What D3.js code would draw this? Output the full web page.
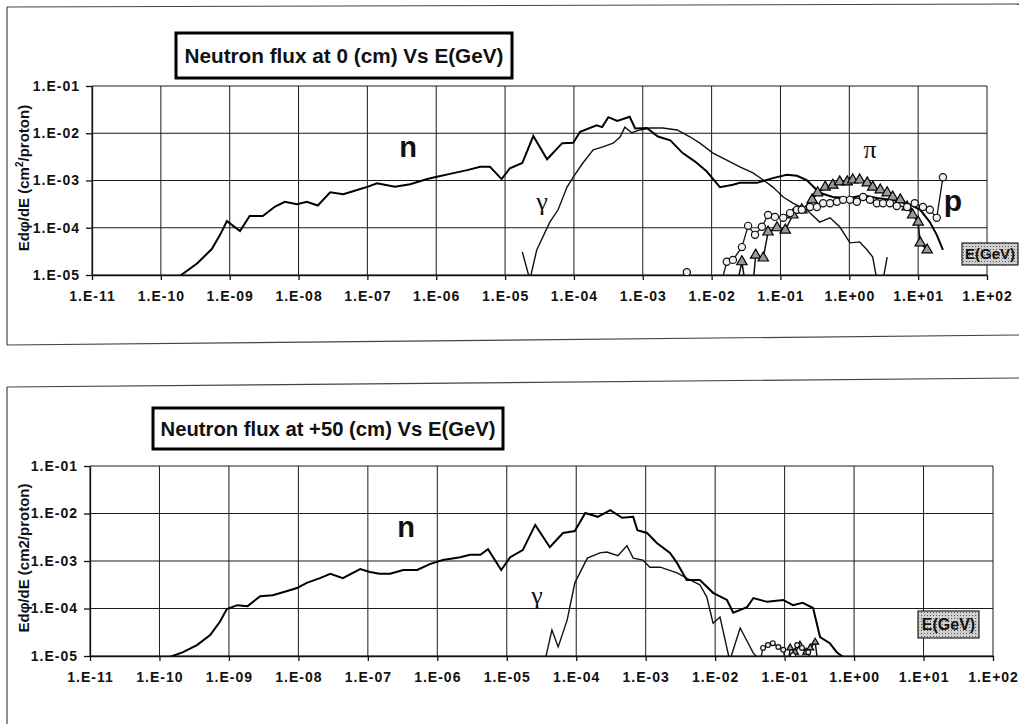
<!DOCTYPE html>
<html>
<head>
<meta charset="utf-8">
<script src="https://cdn.jsdelivr.net/npm/d3@7"></script>
<style>
body { margin: 0; background: #fff; }
text { font-family: Arial, "Liberation Sans", sans-serif; fill: #111; }
</style>
</head>
<body>
<div id="root"></div>
<script>
// tick labels (values are parsed from them)
const xTickLabels = ['1.E-11','1.E-10','1.E-09','1.E-08','1.E-07','1.E-06','1.E-05','1.E-04','1.E-03','1.E-02','1.E-01','1.E+00','1.E+01','1.E+02']
const yTickLabels = ['1.E-01','1.E-02','1.E-03','1.E-04','1.E-05']

// series, as [log10 E(GeV), log10 flux]
const nTop = [[-9.75,-5.05],[-9.47,-4.75],[-9.26,-4.45],[-9.14,-4.15],[-9.04,-3.86],[-8.85,-4.07],[-8.71,-3.75],[-8.52,-3.75],[-8.34,-3.55],[-8.20,-3.45],[-8.02,-3.50],[-7.88,-3.45],[-7.72,-3.53],[-7.54,-3.25],[-7.35,-3.29],[-7.15,-3.20],[-6.99,-3.13],[-6.86,-3.06],[-6.60,-3.13],[-6.38,-3.08],[-6.13,-2.97],[-5.99,-2.92],[-5.80,-2.86],[-5.55,-2.78],[-5.36,-2.71],[-5.22,-2.71],[-5.05,-2.97],[-4.93,-2.74],[-4.75,-2.63],[-4.59,-2.06],[-4.39,-2.55],[-4.17,-2.21],[-4.01,-2.20],[-3.91,-1.97],[-3.67,-1.83],[-3.59,-1.87],[-3.50,-1.66],[-3.37,-1.74],[-3.19,-1.65],[-3.11,-1.90],[-2.94,-1.89],[-2.78,-2.07],[-2.60,-2.15],[-2.42,-2.42],[-2.24,-2.60],[-2.07,-2.81],[-1.95,-3.02],[-1.88,-3.14],[-1.69,-3.09],[-1.59,-3.05],[-1.34,-3.05],[-1.11,-2.95],[-0.91,-2.88],[-0.76,-2.90],[-0.62,-2.99],[-0.43,-3.26],[-0.24,-3.35],[0.01,-3.37],[0.20,-3.31],[0.40,-3.37],[0.63,-3.41],[0.84,-3.48],[1.03,-3.62],[1.17,-3.88],[1.27,-4.15],[1.36,-4.47]]
const gammaTop = [[-4.75,-4.51],[-4.64,-5.10],[-4.54,-4.47],[-4.35,-3.88],[-4.23,-3.62],[-4.10,-3.14],[-4.01,-2.93],[-3.87,-2.63],[-3.72,-2.35],[-3.58,-2.29],[-3.43,-2.21],[-3.33,-2.08],[-3.26,-1.87],[-3.16,-1.99],[-3.04,-1.93],[-2.90,-1.89],[-2.71,-1.89],[-2.50,-1.93],[-2.31,-2.08],[-2.17,-2.21],[-1.98,-2.42],[-1.78,-2.57],[-1.59,-2.71],[-1.40,-2.84],[-1.25,-2.99],[-1.11,-3.14],[-0.96,-3.35],[-0.82,-3.48],[-0.62,-3.62],[-0.43,-3.88],[-0.28,-3.79],[-0.14,-3.98],[0.01,-4.32],[0.15,-4.30],[0.26,-4.47],[0.34,-4.62],[0.40,-5.10],[0.49,-5.10],[0.55,-4.62]]
const piTop = [[-1.66,-5.40],[-1.56,-4.72],[-1.49,-5.40],[-1.41,-5.40],[-1.36,-4.58],[-1.25,-4.64],[-1.18,-4.09],[-1.05,-4.00],[-0.93,-4.05],[-0.82,-3.73],[-0.69,-3.62],[-0.54,-3.41],[-0.46,-3.26],[-0.35,-3.14],[-0.24,-3.10],[-0.14,-3.03],[-0.03,-3.03],[0.05,-2.99],[0.15,-2.99],[0.26,-3.05],[0.34,-3.14],[0.45,-3.20],[0.55,-3.26],[0.63,-3.35],[0.74,-3.41],[0.84,-3.56],[0.92,-3.73],[1.00,-3.88],[1.03,-4.32],[1.13,-4.47]]
const pTop = [[-2.45,-5.40],[-2.36,-4.94],[-2.28,-5.40],[-1.90,-5.40],[-1.78,-4.72],[-1.69,-4.68],[-1.56,-4.41],[-1.47,-3.96],[-1.37,-4.15],[-1.27,-3.98],[-1.18,-3.73],[-1.08,-3.77],[-0.96,-3.79],[-0.86,-3.69],[-0.76,-3.62],[-0.69,-3.62],[-0.57,-3.56],[-0.47,-3.56],[-0.38,-3.48],[-0.28,-3.48],[-0.18,-3.45],[-0.09,-3.41],[0.01,-3.41],[0.11,-3.45],[0.20,-3.35],[0.30,-3.41],[0.40,-3.48],[0.49,-3.48],[0.59,-3.48],[0.69,-3.54],[0.84,-3.56],[0.95,-3.48],[1.07,-3.56],[1.17,-3.62],[1.27,-3.79],[1.36,-2.93]]

const nBot = [[-9.89,-5.04],[-9.66,-4.92],[-9.46,-4.77],[-9.27,-4.56],[-9.13,-4.28],[-9.03,-4.01],[-8.88,-3.93],[-8.73,-3.95],[-8.55,-3.74],[-8.37,-3.72],[-8.16,-3.63],[-8.02,-3.57],[-7.88,-3.46],[-7.69,-3.36],[-7.54,-3.27],[-7.36,-3.36],[-7.11,-3.17],[-6.97,-3.23],[-6.83,-3.27],[-6.68,-3.27],[-6.49,-3.19],[-6.29,-3.19],[-6.10,-3.06],[-5.92,-2.98],[-5.67,-2.92],[-5.53,-2.87],[-5.38,-2.87],[-5.27,-2.75],[-5.08,-3.19],[-4.95,-2.92],[-4.77,-2.77],[-4.59,-2.24],[-4.38,-2.71],[-4.19,-2.41],[-4.02,-2.37],[-3.87,-1.99],[-3.69,-2.07],[-3.51,-1.93],[-3.34,-2.09],[-3.18,-2.07],[-3.12,-2.35],[-2.98,-2.41],[-2.84,-2.62],[-2.65,-2.83],[-2.55,-3.04],[-2.41,-3.40],[-2.22,-3.40],[-2.03,-3.67],[-1.83,-3.82],[-1.74,-4.09],[-1.54,-3.97],[-1.45,-3.78],[-1.25,-3.86],[-1.02,-3.82],[-0.88,-3.93],[-0.74,-3.88],[-0.59,-3.99],[-0.49,-4.60],[-0.35,-4.73],[-0.25,-4.92],[-0.16,-5.02]]
const gammaBot = [[-4.45,-5.10],[-4.35,-4.45],[-4.26,-4.81],[-4.13,-4.24],[-4.02,-3.46],[-3.84,-2.94],[-3.66,-2.83],[-3.56,-2.81],[-3.40,-2.89],[-3.27,-2.68],[-3.18,-2.94],[-3.04,-2.98],[-2.94,-3.13],[-2.79,-3.13],[-2.55,-3.25],[-2.36,-3.40],[-2.22,-3.50],[-2.12,-3.76],[-2.03,-4.31],[-1.93,-4.18],[-1.79,-5.10],[-1.64,-4.41],[-1.45,-4.94],[-1.35,-5.10]]
const piBot = [[-0.97,-5.40],[-0.92,-4.83],[-0.85,-4.92],[-0.78,-4.77],[-0.69,-4.92],[-0.63,-4.83],[-0.56,-4.71],[-0.50,-5.40]]
const pBot = [[-1.40,-5.40],[-1.31,-4.83],[-1.24,-4.77],[-1.17,-4.73],[-1.09,-4.81],[-1.02,-4.87],[-0.95,-5.40],[-0.88,-4.98],[-0.82,-4.77],[-0.75,-4.83],[-0.66,-4.92],[-0.60,-5.40]]

const C = {
	width: 1019,
	height: 724,
	panels: [
		{
			title: 'Neutron flux at 0 (cm) Vs E(GeV)', titleBox: [176, 33, 336, 45], titleLen: 319,
			frame: {x: 7, top: [7, 4], bottom: [345, 335]},
			plot: {left: 92, right: 987, top: 86, bottom: 275},
			unit: 'cm', sup: '2', yLabelY: 178,
			eBox: [962, 243, 56, 22], eFont: 15, marker: 3.6,
			series: {n: nTop, gamma: gammaTop, pi: piTop, p: pTop},
			labels: [
				{t: 'n', x: 408, y: 157, size: 29, serif: false},
				{t: 'γ', x: 542, y: 210, size: 26, serif: true},
				{t: 'π', x: 870, y: 158, size: 26, serif: true},
				{t: 'p', x: 953, y: 211, size: 30, serif: false}
			]
		},
		{
			title: 'Neutron flux at +50 (cm) Vs E(GeV)', titleBox: [153, 408, 350, 41], titleLen: 335,
			frame: {x: 7, top: [387, 378], bottom: null},
			plot: {left: 90, right: 993, top: 466, bottom: 656},
			unit: 'cm2', sup: null, yLabelY: 558,
			eBox: [918, 611, 61, 27], eFont: 16, marker: 2.4,
			series: {n: nBot, gamma: gammaBot, pi: piBot, p: pBot},
			labels: [
				{t: 'n', x: 406, y: 537, size: 29, serif: false},
				{t: 'γ', x: 537, y: 604, size: 26, serif: true}
			]
		}
	]
}

const toNum = s => +s.replace('.E', 'e')
const xVals = xTickLabels.map(toNum)
const yVals = yTickLabels.map(toNum)

const svg = d3.select('#root').append('svg')
	.attr('width', C.width)
	.attr('height', C.height)

const defs = svg.append('defs')
const pat = defs.append('pattern')
	.attr('id', 'stipple')
	.attr('width', 3).attr('height', 3)
	.attr('patternUnits', 'userSpaceOnUse')
pat.append('rect').attr('width', 3).attr('height', 3).attr('fill', '#cfcfcf')
pat.append('rect').attr('width', 1).attr('height', 1).attr('fill', '#5a5a5a')

C.panels.forEach((p, i) => drawPanel(p, i))

function drawPanel(P, idx) {
	const g = svg.append('g')
	const f = P.frame

	// --- panel frame (scan is slightly skewed) ---
	g.append('line')
		.attr('x1', f.x).attr('y1', f.top[0]).attr('x2', C.width).attr('y2', f.top[1])
		.attr('stroke', '#444').attr('stroke-width', 1.2)
	g.append('line')
		.attr('x1', f.x).attr('y1', f.top[0]).attr('x2', f.x).attr('y2', f.bottom ? f.bottom[0] : C.height)
		.attr('stroke', '#444').attr('stroke-width', 1.2)
	if (f.bottom) {
		g.append('line')
			.attr('x1', f.x).attr('y1', f.bottom[0]).attr('x2', C.width).attr('y2', f.bottom[1])
			.attr('stroke', '#444').attr('stroke-width', 1.2)
	}

	const x = d3.scaleLog().domain([xVals[0], xVals[xVals.length - 1]]).range([P.plot.left, P.plot.right])
	const y = d3.scaleLog().domain([yVals[yVals.length - 1], yVals[0]]).range([P.plot.bottom, P.plot.top])

	// -- grid --
	const grid = g.append('g').attr('stroke', '#1a1a1a').attr('stroke-width', 1)
	grid.selectAll('.gx').data(xVals).enter().append('line')
		.attr('x1', d => x(d)).attr('x2', d => x(d))
		.attr('y1', P.plot.top).attr('y2', P.plot.bottom)
	grid.selectAll('.gy').data(yVals).enter().append('line')
		.attr('y1', d => y(d)).attr('y2', d => y(d))
		.attr('x1', P.plot.left).attr('x2', P.plot.right)

	// -- axis --
	const axisX = d3.axisBottom(x)
		.tickValues(xVals)
		.tickFormat((d, i) => xTickLabels[i])
		.tickSize(5).tickSizeOuter(0).tickPadding(11)
	const axisY = d3.axisLeft(y)
		.tickValues(yVals)
		.tickFormat((d, i) => yTickLabels[i])
		.tickSize(6).tickSizeOuter(0).tickPadding(6)

	const ax = g.append('g')
		.attr('transform', `translate(0,${P.plot.bottom})`)
		.call(axisX)
	const ay = g.append('g')
		.attr('transform', `translate(${P.plot.left},0)`)
		.call(axisY)
	;[ax, ay].forEach(a => {
		a.selectAll('path, line').attr('stroke', '#111').attr('stroke-width', 1.3)
		a.selectAll('text')
			.attr('fill', '#111')
			.style('font-size', '14px').style('font-weight', 'bold')
			.style('letter-spacing', '1px')
			.style('font-family', 'Arial, "Liberation Sans", sans-serif')
	})

	// -- y title --
	const yt = g.append('text')
		.attr('transform', `translate(29,${P.yLabelY}) rotate(-90)`)
		.attr('text-anchor', 'middle')
		.attr('font-size', 15).attr('font-weight', 'bold')
	yt.append('tspan').text('Edφ/dE (' + P.unit)
	if (P.sup) {
		yt.append('tspan').attr('font-size', 10).attr('dy', -6).text(P.sup)
		yt.append('tspan').attr('dy', 6).text('/proton)')
	} else {
		yt.append('tspan').text('/proton)')
	}

	// -- title box --
	const tb = P.titleBox
	g.append('rect')
		.attr('x', tb[0]).attr('y', tb[1]).attr('width', tb[2]).attr('height', tb[3])
		.attr('fill', '#fff').attr('stroke', '#000').attr('stroke-width', 3)
	g.append('text')
		.attr('x', tb[0] + tb[2] / 2).attr('y', tb[1] + tb[3] / 2 + 7.5)
		.attr('text-anchor', 'middle')
		.attr('font-size', 21).attr('font-weight', 'bold')
		.attr('textLength', P.titleLen).attr('lengthAdjust', 'spacingAndGlyphs')
		.text(P.title)

	// -- E(GeV) box --
	const eb = P.eBox
	g.append('rect')
		.attr('x', eb[0]).attr('y', eb[1]).attr('width', eb[2]).attr('height', eb[3])
		.attr('fill', 'url(#stipple)').attr('stroke', '#222').attr('stroke-width', 1.2)
	g.append('text')
		.attr('x', eb[0] + eb[2] / 2).attr('y', eb[1] + eb[3] / 2 + P.eFont * 0.36)
		.attr('text-anchor', 'middle')
		.attr('font-size', P.eFont).attr('font-weight', 'bold')
		.text('E(GeV)')

	// -- curves --
	const clipId = 'clip' + idx
	defs.append('clipPath').attr('id', clipId)
		.append('rect')
		.attr('x', P.plot.left).attr('y', P.plot.top - 2)
		.attr('width', P.plot.right - P.plot.left).attr('height', P.plot.bottom - P.plot.top + 2)

	const line = d3.line()
		.x(d => x(10 ** d[0]))
		.y(d => y(10 ** d[1]))

	const plot = g.append('g').attr('clip-path', `url(#${clipId})`)
	const S = P.series

	plot.append('path').datum(S.gamma)
		.attr('d', line).attr('fill', 'none')
		.attr('stroke', '#111').attr('stroke-width', 1.4)
	plot.append('path').datum(S.n)
		.attr('d', line).attr('fill', 'none')
		.attr('stroke', '#000').attr('stroke-width', 2)
	plot.append('path').datum(S.pi)
		.attr('d', line).attr('fill', 'none')
		.attr('stroke', '#111').attr('stroke-width', 1.5)
	plot.append('path').datum(S.p)
		.attr('d', line).attr('fill', 'none')
		.attr('stroke', '#111').attr('stroke-width', 1.3)

	const tri = d3.symbol(d3.symbolTriangle).size(P.marker * P.marker * 3.6)
	plot.selectAll('.tri')
		.data(S.pi.filter(d => d[1] > -5.2))
		.enter().append('path')
		.attr('d', tri)
		.attr('transform', d => `translate(${x(10 ** d[0])},${y(10 ** d[1])})`)
		.attr('fill', '#9a9a9a').attr('stroke', '#000').attr('stroke-width', 1.2)
	plot.selectAll('.circ')
		.data(S.p.filter(d => d[1] > -5.2))
		.enter().append('circle')
		.attr('cx', d => x(10 ** d[0]))
		.attr('cy', d => y(10 ** d[1]))
		.attr('r', P.marker)
		.attr('fill', '#f2f2f2').attr('stroke', '#111').attr('stroke-width', 1.2)

	// -- particle labels --
	g.selectAll('.lab')
		.data(P.labels)
		.enter().append('text')
		.attr('x', d => d.x).attr('y', d => d.y)
		.attr('text-anchor', 'middle')
		.attr('font-size', d => d.size)
		.attr('font-weight', d => d.serif ? 'normal' : 'bold')
		.style('font-family', d => d.serif ? '"Liberation Serif", "DejaVu Serif", serif' : 'Arial, "Liberation Sans", sans-serif')
		.text(d => d.t)
}
</script>
</body>
</html>
